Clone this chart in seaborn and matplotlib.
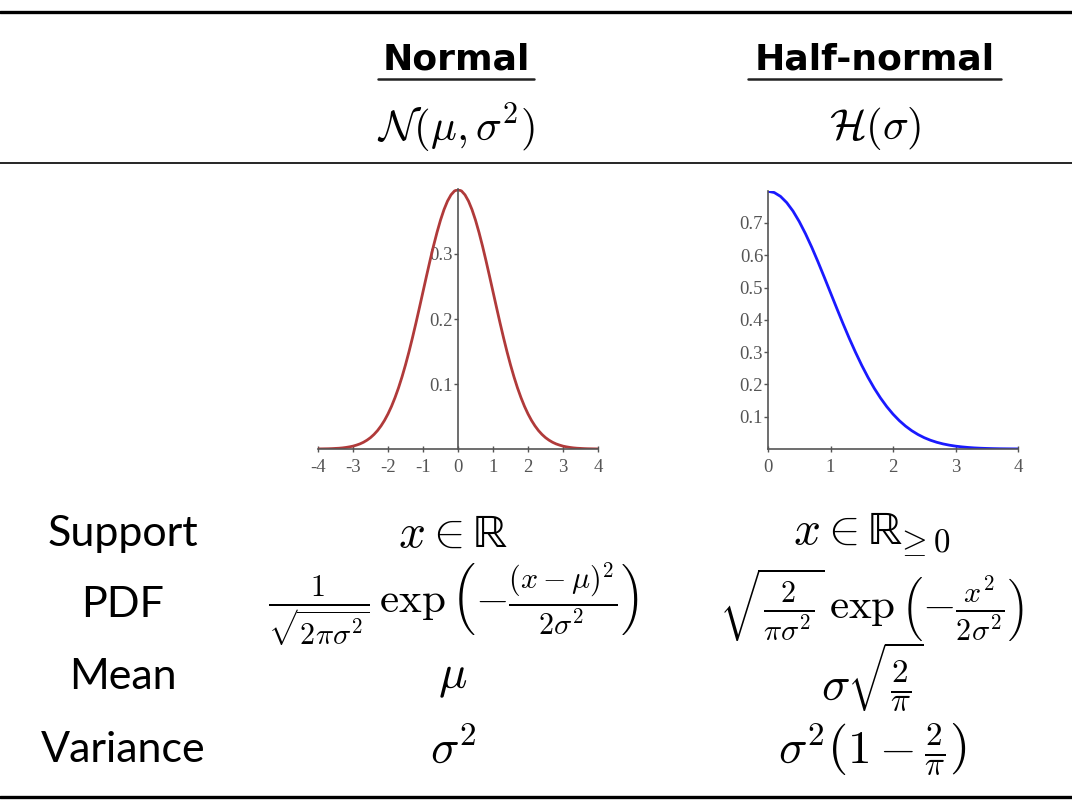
import matplotlib
matplotlib.use('Agg')
import matplotlib.pyplot as plt
import seaborn as sns
from matplotlib.lines import Line2D

# Values
normal_x = [-4.0, -3.9, -3.8, -3.7, -3.6, -3.5, -3.4, -3.3, -3.2, -3.1,
            -3.0, -2.9, -2.8, -2.7, -2.6, -2.5, -2.4, -2.3, -2.2, -2.1,
            -2.0, -1.9, -1.8, -1.7, -1.6, -1.5, -1.4, -1.3, -1.2, -1.1,
            -1.0, -0.9, -0.8, -0.7, -0.6, -0.5, -0.4, -0.3, -0.2, -0.1,
            0.0, 0.1, 0.2, 0.3, 0.4, 0.5, 0.6, 0.7, 0.8, 0.9,
            1.0, 1.1, 1.2, 1.3, 1.4, 1.5, 1.6, 1.7, 1.8, 1.9,
            2.0, 2.1, 2.2, 2.3, 2.4, 2.5, 2.6, 2.7, 2.8, 2.9,
            3.0, 3.1, 3.2, 3.3, 3.4, 3.5, 3.6, 3.7, 3.8, 3.9, 4.0]
normal_y = [0.0001, 0.0002, 0.0003, 0.0004, 0.0006, 0.0009, 0.0012, 0.0017, 0.0024, 0.0033,
            0.0044, 0.0060, 0.0079, 0.0104, 0.0136, 0.0175, 0.0224, 0.0283, 0.0355, 0.0440,
            0.0540, 0.0656, 0.0790, 0.0940, 0.1109, 0.1295, 0.1497, 0.1714, 0.1942, 0.2179,
            0.2420, 0.2661, 0.2897, 0.3123, 0.3332, 0.3521, 0.3683, 0.3814, 0.3910, 0.3970,
            0.3989, 0.3970, 0.3910, 0.3814, 0.3683, 0.3521, 0.3332, 0.3123, 0.2897, 0.2661,
            0.2420, 0.2179, 0.1942, 0.1714, 0.1497, 0.1295, 0.1109, 0.0940, 0.0790, 0.0656,
            0.0540, 0.0440, 0.0355, 0.0283, 0.0224, 0.0175, 0.0136, 0.0104, 0.0079, 0.0060,
            0.0044, 0.0033, 0.0024, 0.0017, 0.0012, 0.0009, 0.0006, 0.0004, 0.0003, 0.0002, 0.0001]

half_x = [0.0, 0.1, 0.2, 0.3, 0.4, 0.5, 0.6, 0.7, 0.8, 0.9,
          1.0, 1.1, 1.2, 1.3, 1.4, 1.5, 1.6, 1.7, 1.8, 1.9,
          2.0, 2.1, 2.2, 2.3, 2.4, 2.5, 2.6, 2.7, 2.8, 2.9,
          3.0, 3.1, 3.2, 3.3, 3.4, 3.5, 3.6, 3.7, 3.8, 3.9, 4.0]
half_y = [0.7979, 0.7940, 0.7821, 0.7627, 0.7366, 0.7041, 0.6664, 0.6246, 0.5794, 0.5321,
          0.4839, 0.4357, 0.3883, 0.3427, 0.2995, 0.2590, 0.2218, 0.1880, 0.1579, 0.1312,
          0.1080, 0.0880, 0.0710, 0.0567, 0.0448, 0.0350, 0.0271, 0.0208, 0.0158, 0.0119,
          0.0089, 0.0066, 0.0048, 0.0034, 0.0024, 0.0017, 0.0012, 0.0008, 0.0006, 0.0004, 0.0003]

normal_xticks = [-4, -3, -2, -1, 0, 1, 2, 3, 4]
normal_yticks = [0.1, 0.2, 0.3]
half_xticks = [0, 1, 2, 3, 4]
half_yticks = [0.1, 0.2, 0.3, 0.4, 0.5, 0.6, 0.7]

headers = ['Normal', 'Half-normal']
notation = [r'$\mathcal{N}(\mu,\sigma^2)$', r'$\mathcal{H}(\sigma)$']
row_labels = ['Support', 'PDF', 'Mean', 'Variance']
normal_cells = [r'$x \in \mathrm{ℝ}$',
                r'$\frac{1}{\sqrt{2\pi\sigma^2}}\,\exp\left(-\frac{(x-\mu)^2}{2\sigma^2}\right)$',
                r'$\mu$',
                r'$\sigma^2$']
half_cells = [r'$x \in \mathrm{ℝ}_{\!\!\geq 0}$',
              r'$\sqrt{\frac{2}{\pi\sigma^2}}\,\exp\left(-\frac{x^2}{2\sigma^2}\right)$',
              r'$\sigma\sqrt{\frac{2}{\pi}}$',
              r'$\sigma^2\left(1-\frac{2}{\pi}\right)$']
cell_sizes = [34, 31, 34, 34]

sns.set_style('white')
plt.rcParams['mathtext.fontset'] = 'cm'
plt.rcParams['font.family'] = ['DejaVu Sans']
plt.rcParams['text.color'] = 'black'

W, H = 1072, 801
fig = plt.figure(figsize=(W / 100, H / 100), dpi=100)


def fx(px):
    return px / W


def fy(py):
    return 1 - py / H


def hline(y, x0, x1, lw, color='black'):
    fig.add_artist(Line2D([fx(x0), fx(x1)], [fy(y), fy(y)], color=color, lw=lw,
                          transform=fig.transFigure))


# table rules
hline(12, 0, W, 2.4)
hline(163, 0, W, 1.2)
hline(797, 0, W, 2.4)

col_x = [456, 875]
for cx, head, note in zip(col_x, headers, notation):
    fig.text(fx(cx), fy(59), head, ha='center', va='center', fontsize=26, fontweight='bold')
    fig.text(fx(cx), fy(128), note, ha='center', va='center', fontsize=31)
# underlines of the headers
hline(79, 378, 534, 1.8, '#222222')
hline(79, 748, 1001, 1.8, '#222222')

row_y = [534, 605, 677, 750]
for ry, lab in zip(row_y, row_labels):
    fig.text(fx(123), fy(ry), lab, ha='center', va='center', fontsize=31, family='Lato')
for ry, cell, fs in zip(row_y, normal_cells, cell_sizes):
    fig.text(fx(453), fy(ry), cell, ha='center', va='center', fontsize=fs)
for ry, cell, fs in zip(row_y, half_cells, cell_sizes):
    fig.text(fx(872), fy(ry), cell, ha='center', va='center', fontsize=fs)

axis_col = '#555555'
tick_font = dict(family='Liberation Serif', size=13.5, color='#555555')

# normal density plot
ax1 = fig.add_axes([fx(318), fy(449), fx(280), 260 / H])
sns.lineplot(x=normal_x, y=normal_y, ax=ax1, color='#b03a3a', linewidth=2.0)
ax1.set_xlim(-4, 4)
ax1.set_ylim(0, 0.4)
ax1.spines['left'].set_position(('data', 0))
ax1.spines['top'].set_visible(False)
ax1.spines['right'].set_visible(False)
ax1.set_xticks(normal_xticks)
ax1.set_xticklabels([str(v) for v in normal_xticks], fontdict=tick_font)
ax1.set_yticks(normal_yticks)
ax1.set_yticklabels([str(v) for v in normal_yticks], fontdict=tick_font)

# half-normal density plot
ax2 = fig.add_axes([fx(768), fy(449), fx(250), 258.4 / H])
sns.lineplot(x=half_x, y=half_y, ax=ax2, color='#1a1aff', linewidth=2.0)
ax2.set_xlim(0, 4)
ax2.set_ylim(0, 0.8)
ax2.spines['top'].set_visible(False)
ax2.spines['right'].set_visible(False)
ax2.set_xticks(half_xticks)
ax2.set_xticklabels([str(v) for v in half_xticks], fontdict=tick_font)
ax2.set_yticks(half_yticks)
ax2.set_yticklabels([str(v) for v in half_yticks], fontdict=tick_font)

for ax in (ax1, ax2):
    for s in ['left', 'bottom']:
        ax.spines[s].set_color(axis_col)
        ax.spines[s].set_linewidth(1.2)
    ax.tick_params(axis='y', direction='out', length=3, width=1, color=axis_col, pad=0.5, left=True)
    ax.tick_params(axis='x', direction='inout', length=5, width=1, color=axis_col, pad=5, bottom=True)
    ax.set_xlabel('')
    ax.set_ylabel('')
    ax.patch.set_alpha(0)

fig.savefig('out.png', dpi=100)
